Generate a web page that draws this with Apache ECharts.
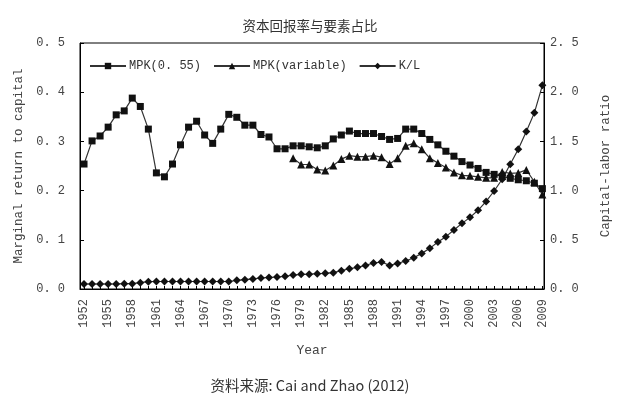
<!DOCTYPE html>
<html>
<head>
<meta charset="utf-8">
<script src="https://cdn.jsdelivr.net/npm/echarts@6/dist/echarts.min.js"></script>
<style>
html,body{margin:0;padding:0;background:#fff;}
#c{width:620px;height:397px;}
</style>
</head>
<body>
<div id="c"></div>
<script>
var years = [];
for (var y = 1952; y <= 2009; y++) years.push(y);
var xLabelYears = [1952,1955,1958,1961,1964,1967,1970,1973,1976,1979,1982,1985,1988,1991,1994,1997,2000,2003,2006,2009];

var mpk055 = [0.254,0.301,0.311,0.329,0.354,0.362,0.388,0.371,0.325,0.236,
  0.228,0.254,0.293,0.329,0.341,0.313,0.296,0.325,0.355,0.349,
  0.333,0.333,0.314,0.309,0.285,0.285,0.291,0.291,0.289,0.287,
  0.291,0.305,0.313,0.321,0.316,0.316,0.316,0.310,0.304,0.306,
  0.325,0.325,0.316,0.304,0.293,0.280,0.270,0.259,0.252,0.245,
  0.237,0.233,0.229,0.225,0.222,0.220,0.215,0.204];

var mpkVarYears = [1978,1979,1980,1981,1982,1983,1984,1985,1986,1987,1988,1989,1990,1991,1992,1993,1994,1995,1996,1997,1998,1999,2000,2001,2002,2003,2004,2005,2006,2007,2008,2009];
var mpkVar = [0.266,0.253,0.253,0.243,0.241,0.251,0.264,0.271,0.269,0.269,
  0.271,0.268,0.254,0.266,0.291,0.296,0.284,0.266,0.256,0.247,
  0.237,0.231,0.230,0.228,0.226,0.226,0.238,0.235,0.236,0.242,
  0.218,0.192];

var kl = [0.051,0.051,0.051,0.051,0.051,0.054,0.054,0.064,0.074,0.076,
  0.076,0.076,0.076,0.076,0.076,0.076,0.076,0.076,0.076,0.088,
  0.095,0.102,0.112,0.118,0.122,0.129,0.142,0.149,0.150,0.156,
  0.159,0.166,0.186,0.206,0.220,0.240,0.264,0.274,0.240,0.260,
  0.285,0.318,0.362,0.413,0.477,0.532,0.600,0.667,0.728,0.800,
  0.890,0.996,1.115,1.267,1.420,1.600,1.790,2.070];

function zip(xs, vs){ return xs.map(function(x,i){ return [x, vs[i]]; }); }

var mono = 'Liberation Mono';
var labelColor = '#444';
var chart = echarts.init(document.getElementById('c'), null, {renderer:'canvas'});
chart.setOption({
  animation: false,
  backgroundColor: '#fff',
  title: [{
    text: '资本回报率与要素占比',
    left: 'center', top: 14,
    textStyle: {fontFamily: 'Noto Sans CJK SC', fontSize: 13.5, fontWeight: 'normal', color: '#333'}
  },{
    text: '资料来源: Cai and Zhao (2012)',
    left: 'center', top: 373,
    textStyle: {fontFamily: 'Noto Sans CJK SC', fontSize: 14.5, fontWeight: 'normal', color: '#333'}
  }],
  legend: {
    left: 84, top: 55,
    itemWidth: 36, itemHeight: 8, itemGap: 12,
    textStyle: {fontFamily: mono, fontSize: 12, color: '#333', padding: [0,0,0,-2]},
    data: ['MPK(0. 55)', 'MPK(variable)', 'K/L']
  },
  grid: {
    left: 80, right: 74, top: 43, bottom: 108,
    show: true, borderColor: '#000', borderWidth: 1, backgroundColor: 'transparent'
  },
  xAxis: {
    type: 'value', min: 1951.5, max: 2009.2,
    name: 'Year', nameLocation: 'middle', nameGap: 55,
    nameTextStyle: {fontFamily: mono, fontSize: 13, color: labelColor},
    splitLine: {show: false},
    axisLine: {show: true, lineStyle: {color: '#000', width: 1}},
    axisTick: {show: true, inside: true, length: 3, lineStyle: {color: '#000'}, customValues: years},
    axisLabel: {
      customValues: xLabelYears, rotate: 90, margin: 10,
      fontFamily: mono, fontSize: 12, color: labelColor,
      formatter: function(v){ return String(v); }
    }
  },
  yAxis: [{
    type: 'value', min: 0, max: 0.5, interval: 0.1, position: 'left',
    name: 'Marginal return to capital', nameLocation: 'middle', nameGap: 53, nameRotate: 90,
    nameTextStyle: {fontFamily: mono, fontSize: 12.5, color: labelColor},
    splitLine: {show: false},
    axisLine: {show: true, lineStyle: {color: '#000'}},
    axisTick: {show: true, inside: true, length: 4, lineStyle: {color: '#000'}},
    axisLabel: {margin: 15, fontFamily: mono, fontSize: 12, color: labelColor,
      formatter: function(v){ return v.toFixed(1).replace('.', '. '); }}
  },{
    type: 'value', min: 0, max: 2.5, interval: 0.5, position: 'right',
    name: 'Capital-labor ratio', nameLocation: 'middle', nameGap: 55, nameRotate: 90,
    nameTextStyle: {fontFamily: mono, fontSize: 12.5, color: labelColor},
    splitLine: {show: false},
    axisLine: {show: true, lineStyle: {color: '#000'}},
    axisTick: {show: true, inside: true, length: 4, lineStyle: {color: '#000'}},
    axisLabel: {margin: 6, fontFamily: mono, fontSize: 12, color: labelColor,
      formatter: function(v){ return v.toFixed(1).replace('.', '. '); }}
  }],
  series: [{
    name: 'MPK(0. 55)', type: 'line', yAxisIndex: 0,
    data: zip(years, mpk055),
    symbol: 'rect', symbolSize: 7,
    itemStyle: {color: '#111'},
    lineStyle: {color: '#333', width: 1.2}
  },{
    name: 'MPK(variable)', type: 'line', yAxisIndex: 0,
    data: zip(mpkVarYears, mpkVar),
    symbol: 'triangle', symbolSize: 8,
    itemStyle: {color: '#111'},
    lineStyle: {color: '#333', width: 1.2}
  },{
    name: 'K/L', type: 'line', yAxisIndex: 1,
    data: zip(years, kl),
    symbol: 'diamond', symbolSize: 8,
    itemStyle: {color: '#111'},
    lineStyle: {color: '#333', width: 1.2}
  }]
});
</script>
</body>
</html>
